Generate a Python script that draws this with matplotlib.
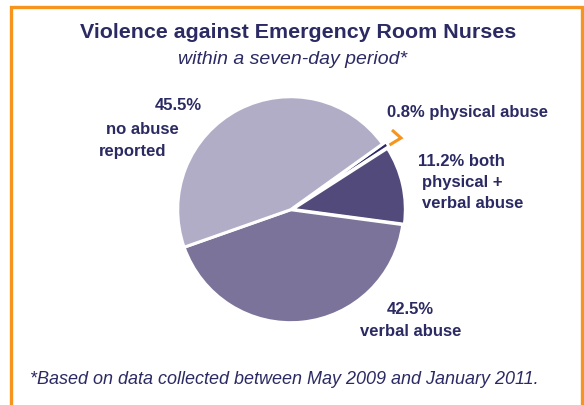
import matplotlib
matplotlib.use("Agg")
import matplotlib.pyplot as plt
from matplotlib.lines import Line2D

# ---- data ----
categories = ["physical abuse", "both physical + verbal abuse", "verbal abuse", "no abuse reported"]
values = [0.8, 11.2, 42.5, 45.5]
colors = ["#2c2a66", "#524a7a", "#7b7399", "#b1adc6"]
explode = [0.035, 0.015, 0.0, 0.0]

title = "Violence against Emergency Room Nurses"
subtitle = "within a seven-day period*"
footnote = "*Based on data collected between May 2009 and January 2011."

W, H = 584, 405
fig = plt.figure(figsize=(W / 100, H / 100), dpi=100)
fig.patch.set_facecolor("white")

FONT = "Liberation Sans"
TXT = "#2b2a63"
ORANGE = "#f7941d"

def fx(x):
    return x / W

def fy(y):
    return 1 - y / H

# frame (left, top, right)
frame = Line2D([fx(10.5), fx(10.5), fx(581.5), fx(581.5)],
               [fy(405), fy(6.5), fy(6.5), fy(405)],
               transform=fig.transFigure, color=ORANGE, lw=2.4,
               solid_joinstyle="miter")
fig.add_artist(frame)

# pie
cx, cy, r = 290.7, 209.7, 113
ax = fig.add_axes([fx(cx - r), 1 - (cy + r) / H, 2 * r / W, 2 * r / H])
wedges, _ = ax.pie(values, colors=colors, startangle=35.6, counterclock=False,
                   explode=explode, radius=1.0,
                   wedgeprops=dict(edgecolor="white", linewidth=2.2))
for w in wedges:
    w.set_clip_on(False)
ax.set_xlim(-1.0, 1.0)
ax.set_ylim(-1.0, 1.0)
ax.set_aspect("auto")
ax.axis("off")

# orange chevron pointing to the thin slice
chev = Line2D([fx(392), fx(401), fx(389.5)], [fy(130), fy(138), fy(145)],
              transform=fig.transFigure, color=ORANGE, lw=2.2,
              solid_joinstyle="miter", solid_capstyle="butt")
fig.add_artist(chev)

# titles
fig.text(fx(298.5), fy(33), title, ha="center", va="center", fontsize=15.4,
         fontweight="bold", color=TXT, family=FONT)
fig.text(fx(292.5), fy(59), subtitle, ha="center", va="center", fontsize=14,
         style="italic", color=TXT, family=FONT)
fig.text(fx(30), fy(379), footnote, ha="left", va="center", fontsize=13,
         style="italic", color=TXT, family=FONT)

lab = dict(fontsize=12, fontweight="bold", color=TXT, family=FONT, va="center")
fig.text(fx(202), fy(106), "45.5%", ha="right", **lab)
fig.text(fx(106), fy(129), "no abuse", ha="left", **lab)
fig.text(fx(99), fy(151), "reported", ha="left", **lab)

fig.text(fx(387), fy(113), "0.8% physical abuse", ha="left", **lab)

fig.text(fx(418), fy(162), "11.2% both", ha="left", **lab)
fig.text(fx(422), fy(183), "physical +", ha="left", **lab)
fig.text(fx(422), fy(204), "verbal abuse", ha="left", **lab)

fig.text(fx(410), fy(310), "42.5%", ha="center", **lab)
fig.text(fx(411), fy(331), "verbal abuse", ha="center", **lab)

fig.savefig("out.png", dpi=100, facecolor="white")
